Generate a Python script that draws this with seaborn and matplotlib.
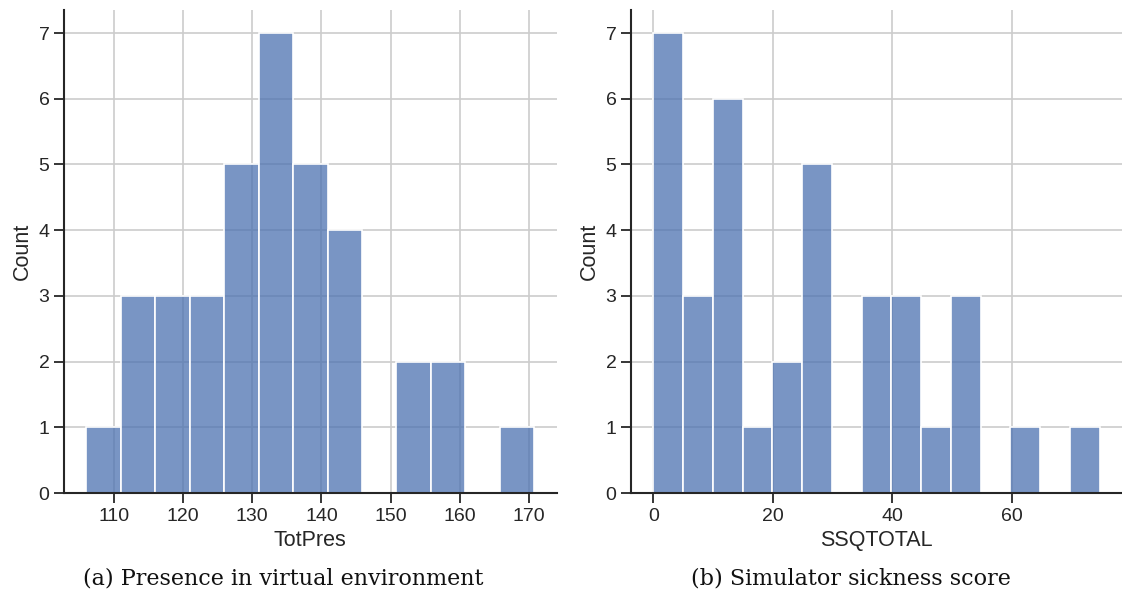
import numpy as np
import pandas as pd
import matplotlib
matplotlib.use("Agg")
import matplotlib.pyplot as plt
import seaborn as sns

# ---- data ----
totpres_range = (106.0, 170.8)
totpres_counts = [1, 3, 3, 3, 5, 7, 5, 4, 0, 2, 2, 0, 1]
ssq_range = (0.0, 74.75)
ssq_counts = [7, 3, 6, 1, 2, 5, 0, 3, 3, 1, 3, 0, 1, 0, 1]

xlabels = ["TotPres", "SSQTOTAL"]
captions = ["(a) Presence in virtual environment", "(b) Simulator sickness score"]

sns.set_style("ticks")
plt.rcParams['font.family'] = ['Liberation Sans', 'DejaVu Sans']

W, H = 1122, 608
fig = plt.figure(figsize=(W / 100, H / 100), dpi=100)

ax_boxes = [
    (64 / W, (H - 493) / H, 492.7 / W, 483 / H),
    (631 / W, (H - 493) / H, 491 / W, 483 / H),
]

datasets = [(totpres_range, totpres_counts), (ssq_range, ssq_counts)]
caption_x = [283.5 / W, 851 / W]

for i, ((lo, hi), counts) in enumerate(datasets):
    ax = fig.add_axes(ax_boxes[i])
    edges = [float(e) for e in np.linspace(lo, hi, len(counts) + 1)]
    centers = [(edges[k] + edges[k + 1]) / 2 for k in range(len(counts))]
    df = pd.DataFrame({xlabels[i]: centers, "w": counts})
    ax.set_axisbelow(True)
    ax.grid(True, color="#cccccc", linewidth=1.2)
    sns.histplot(data=df, x=xlabels[i], weights="w", bins=edges, ax=ax,
                 color="#4c72b0", alpha=0.75, edgecolor="white", linewidth=1.2)
    ax.set_ylabel("Count", fontsize=15.5, color="#262626")
    ax.set_xlabel(xlabels[i], fontsize=15.5, color="#262626")
    ax.tick_params(labelsize=14, length=7, width=1.3, colors="#262626")
    for s in ["left", "bottom"]:
        ax.spines[s].set_linewidth(1.5)
        ax.spines[s].set_color("#262626")
    sns.despine(ax=ax)
    fig.text(caption_x[i], (H - 578) / H, captions[i], ha="center", va="center",
             fontsize=16, family="DejaVu Serif", color="#111111")

fig.savefig("out.png", dpi=100)
